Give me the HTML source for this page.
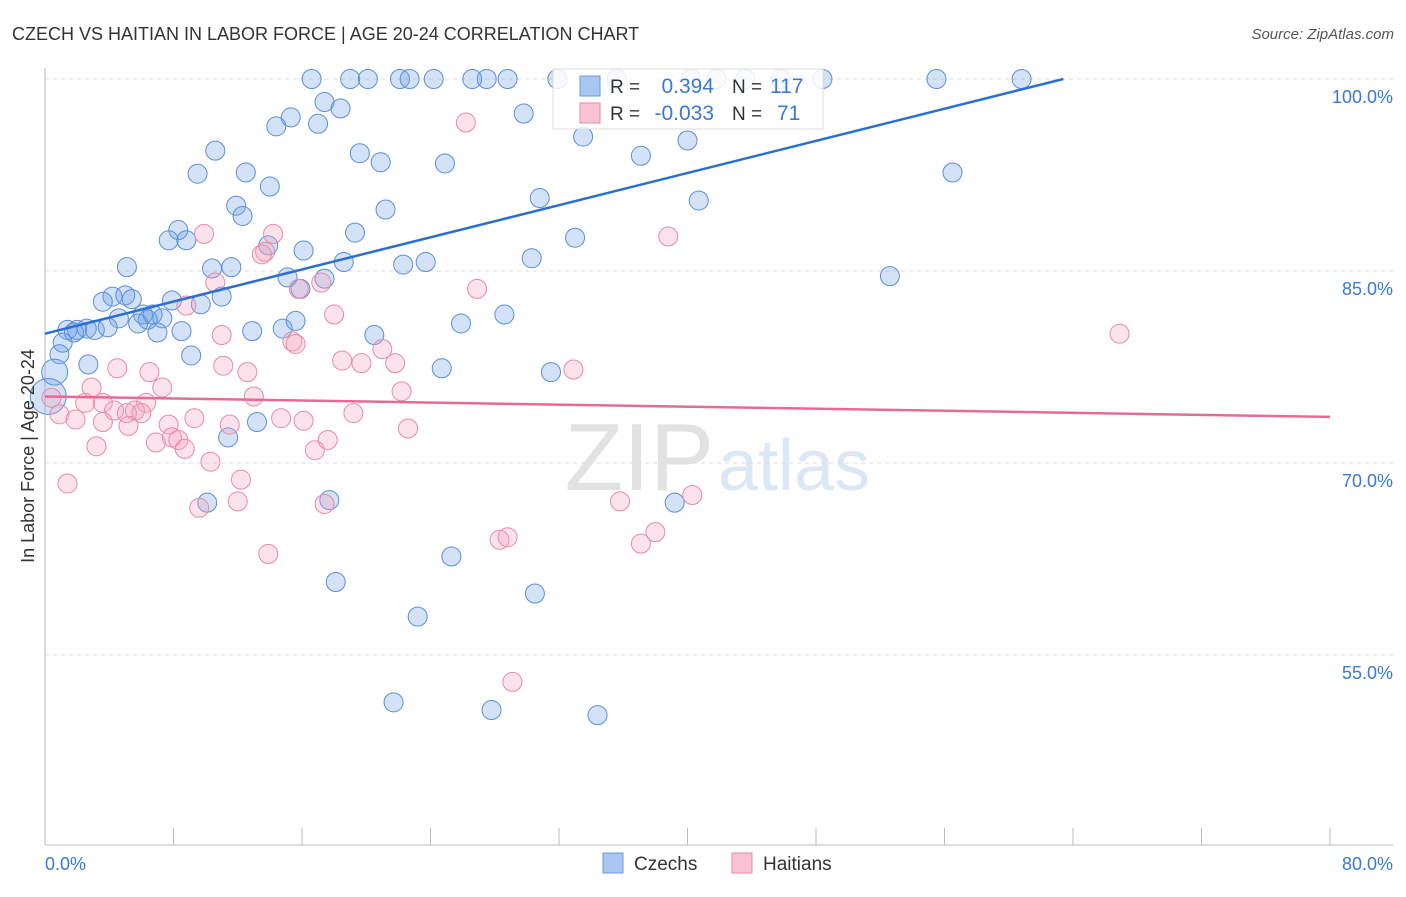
<!DOCTYPE html>
<html><head><meta charset="utf-8"><style>
body{margin:0;background:#fff;font-family:"Liberation Sans",sans-serif}
svg text{font-family:"Liberation Sans",sans-serif}
</style></head><body>
<svg id="c" width="1406" height="892">
<text x="12" y="40" font-size="18" fill="#333">CZECH VS HAITIAN IN LABOR FORCE | AGE 20-24 CORRELATION CHART</text>
<text x="1394" y="39" font-size="15" fill="#555" text-anchor="end" font-style="italic">Source: ZipAtlas.com</text>
<text x="714" y="490" font-size="96" fill="#e2e2e2" text-anchor="end" font-family="Liberation Serif">ZIP</text>
<text x="718" y="490" font-size="72" fill="#dce7f5">atlas</text>
<g id="grid"></g><g id="pts"></g><g id="lines"></g>
<text transform="translate(34,456) rotate(-90)" font-size="18" fill="#333" text-anchor="middle">In Labor Force | Age 20-24</text>
<g>
<rect x="553" y="69" width="270" height="60" fill="#fff" fill-opacity="0.85" stroke="#ddd"/>
<rect x="580" y="76" width="20" height="20" fill="#a9c6f0" stroke="#6a9be0"/>
<rect x="580" y="103" width="20" height="20" fill="#f7c2d3" stroke="#e88aa8"/>
<text x="610" y="93" font-size="19" fill="#333">R =</text><text x="714" y="93" font-size="21" fill="#3a78d6" text-anchor="end">0.394</text>
<text x="732" y="93" font-size="19" fill="#333">N =</text><text x="770" y="93" font-size="21" fill="#3a78d6">117</text>
<text x="610" y="120" font-size="19" fill="#333">R =</text><text x="714" y="120" font-size="21" fill="#3a78d6" text-anchor="end">-0.033</text>
<text x="732" y="120" font-size="19" fill="#333">N =</text><text x="777" y="120" font-size="21" fill="#3a78d6">71</text>
</g>
<g>
<rect x="603" y="853" width="20" height="20" fill="#a9c6f0" stroke="#6a9be0"/>
<text x="634" y="870" font-size="19" fill="#333">Czechs</text>
<rect x="732" y="853" width="20" height="20" fill="#f7c2d3" stroke="#e88aa8"/>
<text x="763" y="870" font-size="19" fill="#333">Haitians</text>
</g>
</svg>
<script>
const czechX=[16.6,19.0,20.1,22.1,22.7,24.2,26.6,27.5,28.8,31.9,35.6,40.2,41.8,43.6,45.8,48.4,55.5,60.8,17.4,18.4,15.3,14.4,17.0,29.8,33.5,40.0,10.6,19.6,20.9,24.9,37.1,9.5,12.5,14.0,56.5,30.8,40.7,11.9,12.3,21.2,8.3,7.7,8.8,19.3,33.0,13.9,16.1,5.1,10.4,11.6,18.6,22.3,23.7,30.3,52.6,15.1,17.4,4.2,5.0,5.4,3.6,7.9,11.0,9.7,15.9,4.6,6.1,7.3,6.4,5.8,6.7,1.4,2.0,2.6,3.1,3.9,1.8,7.0,8.5,12.9,14.8,15.6,20.5,25.9,28.6,1.1,0.9,2.7,9.1,0.6,0.2,24.7,31.5,13.2,11.4,10.1,17.7,39.2,18.1,25.3,30.5,23.2,21.7,27.8,34.4];
const czechY=[100,100,100,100,100,100,100,100,100,100,100,100,100,100,100,100,100,100,98.2,97.7,97.0,96.3,96.5,97.3,95.5,95.2,94.4,94.2,93.5,93.4,94.0,92.6,92.7,91.6,92.7,90.7,90.5,90.1,89.3,89.8,88.2,87.4,87.4,88.0,87.6,87.0,86.6,85.3,85.2,85.3,85.7,85.5,85.7,86.0,84.6,84.5,84.4,83.0,83.1,82.8,82.6,82.7,83.0,82.4,83.6,81.3,81.6,81.3,81.2,80.9,81.6,80.4,80.4,80.5,80.4,80.6,80.2,80.2,80.3,80.3,80.5,81.1,80.0,80.9,81.6,79.4,78.5,77.7,78.4,77.1,75.2,77.4,77.1,73.2,72.0,66.9,67.1,66.9,60.7,62.7,59.8,58.0,51.3,50.7,50.3];
const haitX=[26.2,9.9,14.2,38.8,13.7,13.5,17.2,15.8,10.6,26.9,8.8,18.0,11.0,15.4,15.6,21.0,18.5,19.7,21.8,66.9,4.5,6.5,11.1,12.6,32.9,2.9,7.3,13.0,22.2,0.4,2.5,3.6,6.3,0.9,1.9,4.3,5.1,5.6,6.0,3.6,5.2,7.7,9.3,11.5,14.7,16.1,19.2,22.6,3.2,6.9,7.9,8.3,8.7,16.8,17.6,10.3,1.4,12.2,9.6,12.0,17.4,35.8,40.3,38.0,37.1,28.3,28.8,13.9,29.1];
const haitY=[96.6,87.9,87.9,87.7,86.5,86.3,84.1,83.6,84.1,83.6,82.3,81.6,80.0,79.5,79.3,78.9,78.0,77.8,77.8,80.1,77.4,77.1,77.6,77.1,77.3,75.9,75.9,75.2,75.6,75.1,74.7,74.7,74.7,73.8,73.4,74.1,73.9,74.1,73.9,73.2,72.9,73.0,73.5,73.0,73.5,73.3,73.9,72.7,71.3,71.6,72.0,71.8,71.1,71.0,71.8,70.1,68.4,68.7,66.5,67.0,66.8,67.0,67.5,64.6,63.7,64.0,64.2,62.9,52.9];
const czechTrend=[[0,80.1],[63.4,100]];
const haitTrend=[[0,75.2],[80,73.6]];
const yTicks=[100,85,70,55];
const xTickLabels=["0.0%","80.0%"];
const NS="http://www.w3.org/2000/svg";
const xs=v=>45+v*1285/80, ys=v=>79+(100-v)*12.8;
function mk(t,a,p){const e=document.createElementNS(NS,t);for(const k in a)e.setAttribute(k,a[k]);p.appendChild(e);return e;}
const grid=document.getElementById('grid'),pts=document.getElementById('pts'),lines=document.getElementById('lines');
yTicks.forEach(v=>{
 const l=mk('line',{x1:45,x2:1393,y1:ys(v),y2:ys(v),stroke:'#ddd','stroke-dasharray':'4,4'},grid);
 
 
 const t=mk('text',{x:1393,y:ys(v)+24,'font-size':18,fill:'#3a78d6','text-anchor':'end'},grid);t.textContent=v.toFixed(1)+'%';
 
 
});
mk('line',{x1:45,x2:45,y1:68,y2:845,stroke:'#bbb'},grid);
mk('line',{x1:45,x2:1393,y1:845,y2:845,stroke:'#bbb'},grid);
for(let i=0;i<=10;i++){const x=xs(i*8);mk('line',{x1:x,x2:x,y1:828,y2:845,stroke:'#bbb'},grid);}
const t0=mk('text',{x:45,y:870,'font-size':18,fill:'#3a78d6'},grid);t0.textContent=xTickLabels[0];


const t1=mk('text',{x:1393,y:870,'font-size':18,fill:'#3a78d6','text-anchor':'end'},grid);t1.textContent=xTickLabels[1];


czechX.forEach((v,i)=>{const r=v<0.3?18:(v<0.7?13:9.5);
 const c=mk('circle',{cx:xs(v),cy:ys(czechY[i]),r:r,fill:'rgba(110,160,230,0.3)',stroke:'#5b8fd6','stroke-width':1},pts);
 
 });
haitX.forEach((v,i)=>{
 const c=mk('circle',{cx:xs(v),cy:ys(haitY[i]),r:9.5,fill:'rgba(245,160,190,0.3)',stroke:'#e88aa8','stroke-width':1},pts);
 
 });
const l1=mk('line',{x1:xs(czechTrend[0][0]),y1:ys(czechTrend[0][1]),x2:xs(czechTrend[1][0]),y2:ys(czechTrend[1][1]),stroke:'#2a6fd6','stroke-width':2.5},lines);


const l2=mk('line',{x1:xs(haitTrend[0][0]),y1:ys(haitTrend[0][1]),x2:xs(haitTrend[1][0]),y2:ys(haitTrend[1][1]),stroke:'#e86a94','stroke-width':2.5},lines);


</script>
</body></html>
